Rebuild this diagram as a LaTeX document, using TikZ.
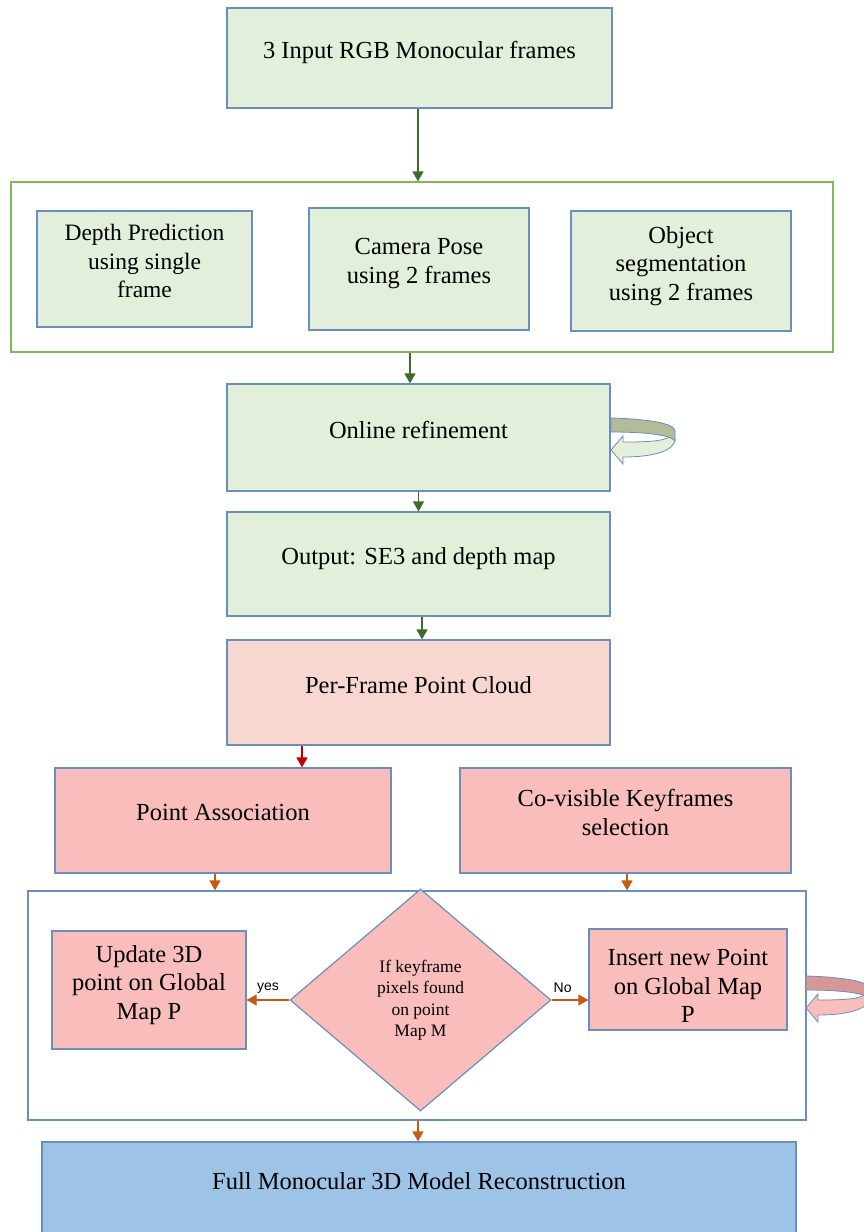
\documentclass[tikz,border=0pt]{standalone}
\usepackage{fontspec}
\setmainfont{Liberation Serif}
\newfontfamily\labelfont{Liberation Sans}
\usetikzlibrary{shapes.geometric,arrows.meta}

\definecolor{boxline}{HTML}{6C8EBF}
\definecolor{greenfill}{HTML}{E2EFDA}
\definecolor{greenframe}{HTML}{7DB85A}
\definecolor{greenarrow}{HTML}{3E6B2A}
\definecolor{peachfill}{HTML}{F8D7D0}
\definecolor{pinkfill}{HTML}{F9BDBB}
\definecolor{redarrow}{HTML}{C00000}
\definecolor{orangearrow}{HTML}{C55A11}
\definecolor{bluefill}{HTML}{9DC3E6}
\definecolor{olivedark}{HTML}{B3BC98}
\definecolor{rosedark}{HTML}{D69896}

% turning arrow on the right side of a box
\newcommand{\turnback}[3]{%
  \begin{scope}[shift={#1}]
    \filldraw[draw=boxline, line width=0.8pt, fill=#3] (61,-3) .. controls (58,4) and (40,5) .. (12,5) -- (12,-1) -- (0,13) -- (12,27) -- (12,20) .. controls (45,20) and (64,13) .. (64,2) -- cycle;
    \filldraw[draw=boxline, line width=0.8pt, fill=#2] (0,-19) .. controls (35,-18) and (64,-14) .. (64,-6) -- (64,4) .. controls (60,-2) and (35,-5) .. (0,-5) -- cycle;
  \end{scope}}

\begin{document}
\begin{tikzpicture}[x=1pt,y=-1pt,
  box/.style={draw=boxline, line width=1.2pt, align=center, inner sep=0pt,
    font=\fontsize{24.5}{28.5}\selectfont, text depth=16pt},
  greenbox/.style={box, fill=greenfill},
  pinkbox/.style={box, fill=pinkfill},
  frame/.style={line width=1.2pt, minimum width=#1},
  flow/.style={-{Triangle[length=10pt,width=11pt]}, line width=1.2pt},
  answer/.style={text=black, font=\labelfont\fontsize{14}{16}\selectfont}]
  \useasboundingbox (0,0) rectangle (864,1232);

  \node[greenbox, minimum width=385, minimum height=100] (input) at (419.5,58) {3 Input RGB Monocular frames};

  \node[draw=greenframe, frame=822, minimum height=170] (stage) at (422,267) {};
  \node[greenbox, minimum width=215, minimum height=116, font=\fontsize{23.5}{28.5}\selectfont] (depth) at (144.5,269) {Depth Prediction\\using single\\frame};
  \node[greenbox, minimum width=220, minimum height=122] (pose) at (419,269) {Camera Pose\\using 2 frames};
  \node[greenbox, minimum width=220, minimum height=120] (objseg) at (681,271) {Object\\segmentation\\using 2 frames};

  \node[greenbox, minimum width=383, minimum height=107] (refine) at (418.5,437.5) {Online refinement};
  \node[greenbox, minimum width=383, minimum height=104] (output) at (418.5,564) {Output: SE3 and depth map};
  \node[box, fill=peachfill, minimum width=383, minimum height=105] (cloud) at (418.5,692.5) {Per-Frame Point Cloud};

  \node[pinkbox, minimum width=336, minimum height=105] (assoc) at (223,820.5) {Point Association};
  \node[pinkbox, minimum width=331, minimum height=105] (covis) at (625.5,820.5) {Co-visible Keyframes\\selection};

  \node[draw=boxline, frame=778, minimum height=229] (fuse) at (417,1005.5) {};
  \node[pinkbox, minimum width=194, minimum height=118] (update) at (149,990) {Update 3D\\point on Global\\Map P};
  \node[draw=boxline, line width=1.2pt, fill=pinkfill, diamond, inner sep=0pt, minimum width=261, minimum height=222,
    align=center, font=\fontsize{17.5}{21.5}\selectfont] (check) at (420.5,1000) {If keyframe\\pixels found\\on point\\Map M};
  \node[pinkbox, minimum width=198, minimum height=101, text height=86pt, text depth=0pt] (insert) at (688,979.5) {Insert new Point\\on Global Map\\P};

  \node[box, fill=bluefill, minimum width=754, minimum height=94] (full) at (419,1189) {Full Monocular 3D Model Reconstruction};

  \turnback{(611,437)}{olivedark}{greenfill}
  \turnback{(806,995)}{rosedark}{pinkfill}

  \draw[flow, greenarrow] ([xshift=-1.5pt]input.south) -- ([xshift=-1.5pt]input.south |- stage.north);
  \draw[flow, greenarrow] ([xshift=-8.5pt]refine.north |- stage.south) -- ([xshift=-8.5pt]refine.north);
  \draw[flow, greenarrow] (refine.south) -- (output.north);
  \draw[flow, greenarrow] ([xshift=3.5pt]output.south) -- ([xshift=3.5pt]cloud.north);
  \draw[flow, redarrow] ([xshift=79pt]assoc.north |- cloud.south) -- ([xshift=79pt]assoc.north);
  \draw[flow, orangearrow] ([xshift=-8pt]assoc.south) -- ([xshift=-8pt]assoc.south |- fuse.north);
  \draw[flow, orangearrow] ([xshift=1.5pt]covis.south) -- ([xshift=1.5pt]covis.south |- fuse.north);
  \draw[flow, orangearrow] (check.west) -- (check.west -| update.east) node[midway, above=3pt, answer] {yes};
  \draw[flow, orangearrow] (check.east) -- (check.east -| insert.west) node[pos=0.3, above=3pt, answer] {No};
  \draw[flow, orangearrow] ([xshift=1pt]fuse.south) -- ([xshift=1pt]fuse.south |- full.north);
\end{tikzpicture}
\end{document}
